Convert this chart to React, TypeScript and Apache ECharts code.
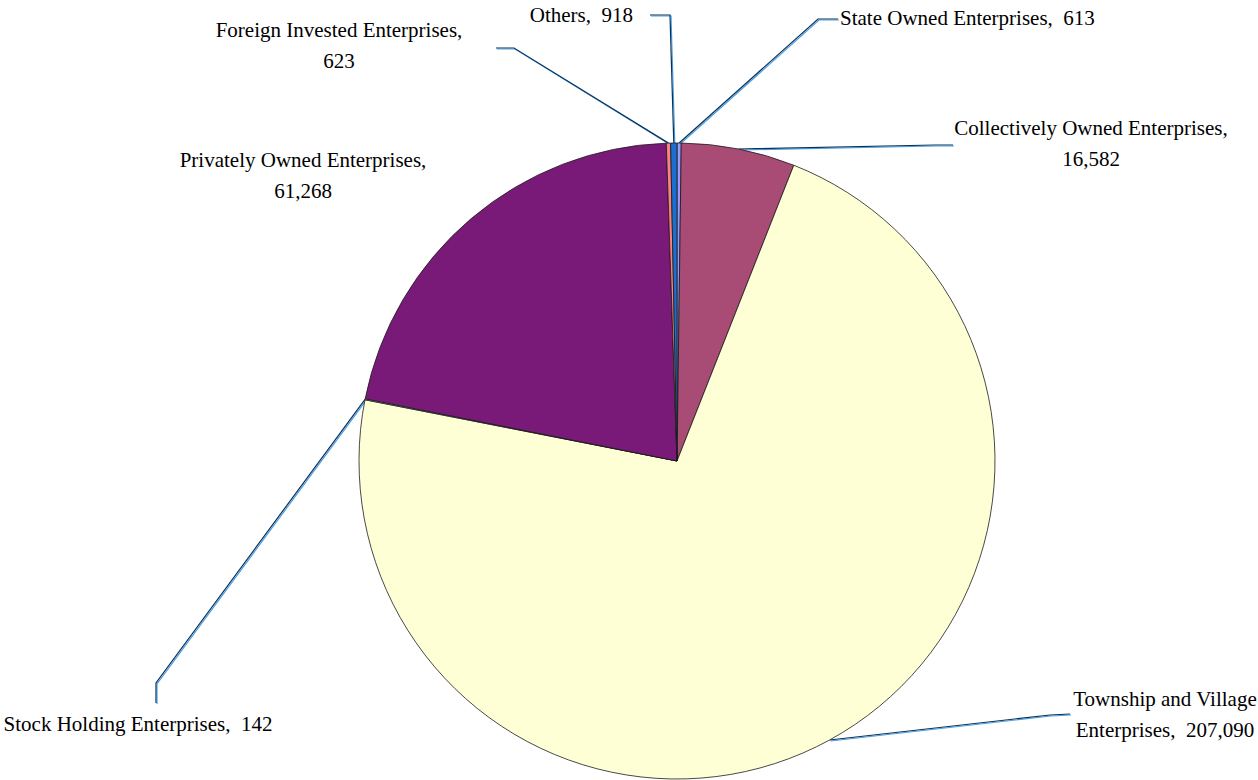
import React, { useEffect, useRef } from "react";
import * as echarts from "echarts";

const categories = [
  "State Owned Enterprises",
  "Collectively Owned Enterprises",
  "Township and Village Enterprises",
  "Stock Holding Enterprises",
  "Privately Owned Enterprises",
  "Foreign Invested Enterprises",
  "Others",
];
const values = [613, 16582, 207090, 142, 61268, 623, 918];
const colors = ["#9999ff", "#a84b75", "#ffffd6", "#ccffff", "#7a1a78", "#ff8080", "#1a6fd0"];

// label layout (positions in px)
const labelX = [840, 1091, 1165, 138, 303, 339, 633];
const labelY = [18, 143, 714, 724, 175, 45, 15];
const labelAlign = ["left", "center", "center", "center", "center", "center", "right"];
const wrapName = [false, false, true, false, false, false, false];
const wrapValue = [false, true, false, false, true, true, false];
const bendPts: (number[] | null)[] = [[818, 19], [935, 145], [1050, 715], [156, 683], null, [514, 48], [670, 15]];
const endPts: (number[] | null)[] = [[838, 19], [953, 145], [1070, 714], [156, 703], null, [496, 48], [650, 15]];

const CX = 677;
const CY = 461;
const R = 318;

function fmt(v: number) {
  return v.toLocaleString("en-US");
}

export default function App() {
  const ref = useRef<HTMLDivElement>(null);
  useEffect(() => {
    document.body.style.margin = "0";
    if (!ref.current) return;
    const chart = echarts.init(ref.current, null, { renderer: "svg" });
    const total = values.reduce((a, b) => a + b, 0);
    const startPts: number[][] = [];
    let acc = 0;
    values.forEach((v) => {
      const mid = ((acc + v / 2) / total) * 2 * Math.PI;
      startPts.push([CX + R * Math.sin(mid), CY - R * Math.cos(mid)]);
      acc += v;
    });
    const data = categories.map((name, i) => ({
      name,
      value: values[i],
      itemStyle: { color: colors[i] },
      labelLine: { show: bendPts[i] !== null },
    }));
    chart.setOption({
      animation: false,
      backgroundColor: "#ffffff",
      series: [
        {
          type: "pie",
          center: [CX, CY],
          radius: [0, R],
          startAngle: 90,
          clockwise: true,
          avoidLabelOverlap: false,
          minAngle: 0,
          data,
          itemStyle: { borderColor: "#1a1a1a", borderWidth: 0.8 },
          label: {
            show: true,
            position: "outside",
            color: "#000",
            fontFamily: "Liberation Serif",
            fontSize: 21,
            lineHeight: 31,
            formatter: (p: any) => {
              const i = p.dataIndex;
              let name = categories[i];
              if (wrapName[i]) name = name.replace(" Village ", " Village\n");
              return name + "," + (wrapValue[i] ? "\n" : "\u00a0 ") + fmt(values[i]);
            },
          },
          labelLine: {
            show: true,
            length: 10,
            length2: 10,
            lineStyle: {
              color: "#0b3050",
              width: 1.2,
              shadowColor: "#4a9ee8",
              shadowBlur: 0.5,
              shadowOffsetX: 1,
              shadowOffsetY: 1,
            },
          },
          labelLayout: (params: any) => {
            const i = params.dataIndex;
            const out: any = {
              x: labelX[i],
              y: labelY[i],
              align: labelAlign[i],
              verticalAlign: "middle",
            };
            if (bendPts[i] && endPts[i]) {
              out.labelLinePoints = [startPts[i], bendPts[i], endPts[i]];
            }
            return out;
          },
          emphasis: { disabled: true },
        },
      ],
    });
    return () => chart.dispose();
  }, []);
  return <div ref={ref} style={{ width: 1258, height: 780 }} />;
}
